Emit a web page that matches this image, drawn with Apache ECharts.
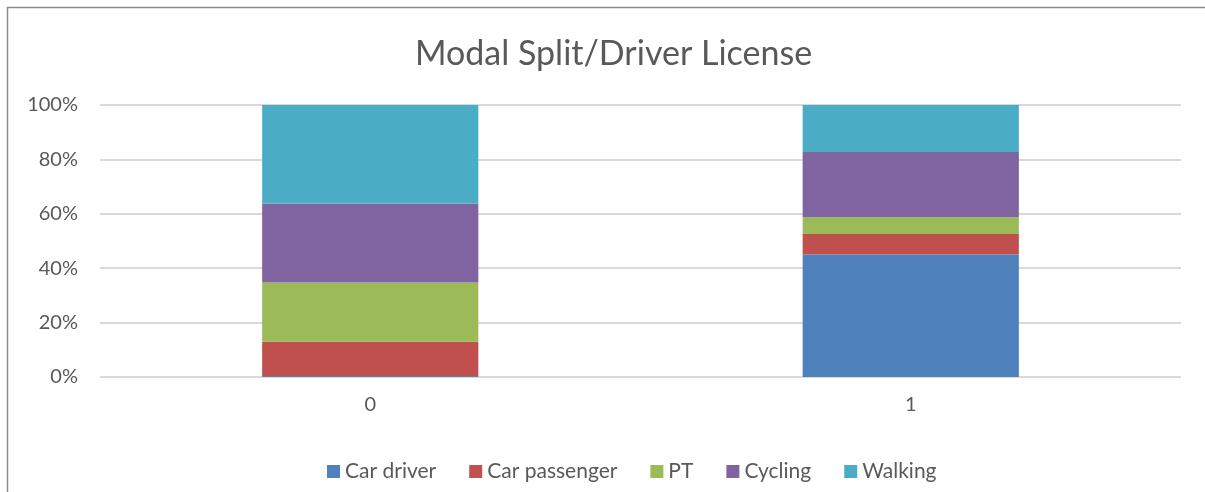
<!DOCTYPE html>
<html>
<head>
<meta charset="utf-8">
<script src="https://cdn.jsdelivr.net/npm/echarts@6/dist/echarts.min.js"></script>
<style>
  html, body { margin: 0; padding: 0; background: #fff; }
  #box { width: 1205px; height: 492px; }
</style>
</head>
<body>
<div id="box"></div>
<script>
// categories (driver license: 0 = no, 1 = yes)
const categories = ['0', '1'];
const seriesNames = ['Car driver', 'Car passenger', 'PT', 'Cycling', 'Walking'];
const colors = ['#4F81BD', '#C0504D', '#9BBB59', '#8064A2', '#4BACC6'];
// shares in percent per category
const carDriver = [0.4, 45.0];
const carPassenger = [12.6, 7.6];
const pt = [21.7, 6.1];
const cycling = [29.1, 24.0];
const walking = [36.2, 17.3];
const yTicks = [0, 20, 40, 60, 80, 100];

const values = [carDriver, carPassenger, pt, cycling, walking];
const font = 'Lato, "Open Sans", sans-serif';

const myChart = echarts.init(document.getElementById('box'));

const option = {
  animation: false,
  backgroundColor: '#fff',
  title: {
    text: 'Modal Split/Driver License',
    left: 410,
    top: 32,
    textStyle: { fontFamily: font, fontSize: 34, fontWeight: 'normal', color: '#595959' }
  },
  legend: {
    bottom: 5,
    left: 322,
    icon: 'rect',
    itemWidth: 13,
    itemHeight: 13,
    itemGap: 33,
    textStyle: { fontFamily: font, fontSize: 21, color: '#595959' },
    data: seriesNames
  },
  grid: { left: 100, right: 24, top: 105, bottom: 115, containLabel: false },
  xAxis: {
    type: 'category',
    data: categories,
    axisLine: { show: false },
    axisTick: { show: false },
    axisLabel: { fontFamily: font, fontSize: 20, color: '#595959', margin: 18 }
  },
  yAxis: {
    type: 'value',
    min: 0,
    max: yTicks[yTicks.length - 1],
    interval: yTicks[1] - yTicks[0],
    axisLine: { show: false },
    axisTick: { show: false },
    splitLine: { lineStyle: { color: '#d9d9d9', width: 2 } },
    axisLabel: { fontFamily: font, fontSize: 20, color: '#595959', margin: 22, formatter: v => v + '%' }
  },
  graphic: [{
    type: 'rect',
    shape: { x: 7.5, y: 7.5, width: 1300, height: 600 },
    style: { fill: 'none', stroke: '#8c8c8c', lineWidth: 1.5 },
    silent: true
  }],
  series: seriesNames.map((name, i) => ({
    name: name,
    type: 'bar',
    stack: 'total',
    barWidth: '40%',
    color: colors[i],
    data: values[i]
  }))
};

myChart.setOption(option);
</script>
</body>
</html>
